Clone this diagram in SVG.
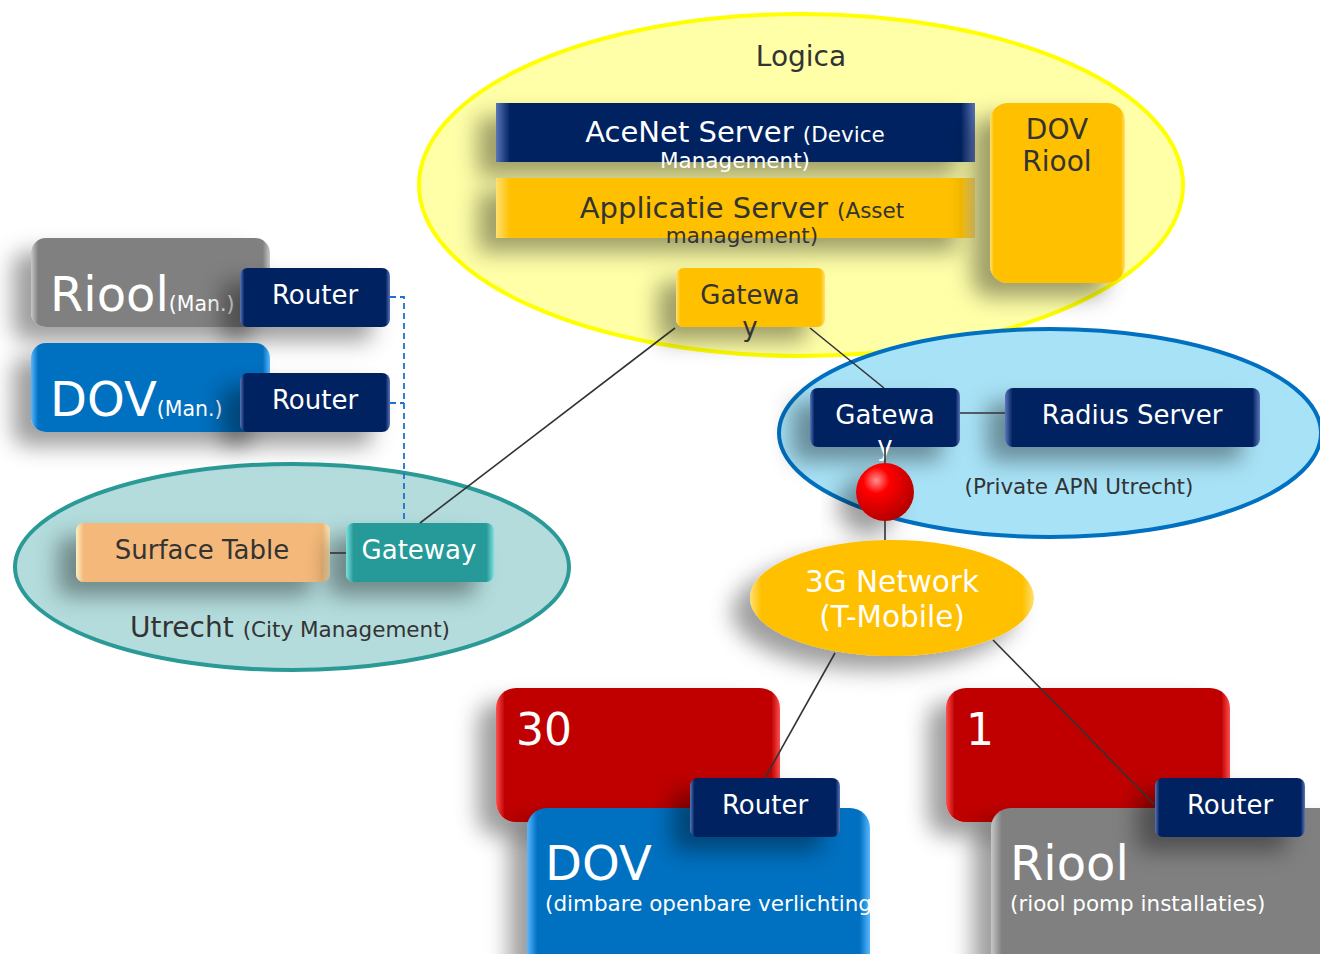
<svg xmlns="http://www.w3.org/2000/svg" width="1320" height="954" viewBox="0 0 1320 954">
<style>
text{font-family:"DejaVu Sans","Verdana",sans-serif}
.w{fill:#ffffff}
.d{fill:#333333}
.navy{fill:url(#gNavy)}
.gold{fill:url(#gGold)}
.teal{fill:url(#gTeal)}
.peach{fill:url(#gPeach)}
.red{fill:url(#gRed)}
.blue{fill:url(#gBlue)}
.gray{fill:url(#gGray)}
.conn{stroke:#333333;stroke-width:1.6;fill:none}
.dash{stroke:#1f6fd0;stroke-width:1.8;fill:none;stroke-dasharray:6 4}
.sh{filter:url(#shadow)}
.s{font-size:21.5px}
</style>
<defs>
<filter id="shadow" x="-60%" y="-60%" width="220%" height="240%">
<feDropShadow dx="-18" dy="14" stdDeviation="11" flood-color="#000" flood-opacity="0.38"/>
</filter>
<linearGradient id="gNavy" x1="0" x2="1" y1="0" y2="0">
<stop offset="0" stop-color="#5a76b8"/><stop offset="0.03" stop-color="#002060"/><stop offset="0.97" stop-color="#002060"/><stop offset="1" stop-color="#5a76b8"/>
</linearGradient>
<linearGradient id="gGold" x1="0" x2="1" y1="0" y2="0">
<stop offset="0" stop-color="#ffe070"/><stop offset="0.03" stop-color="#ffc000"/><stop offset="0.97" stop-color="#ffc000"/><stop offset="1" stop-color="#ffe070"/>
</linearGradient>
<linearGradient id="gTeal" x1="0" x2="1" y1="0" y2="0">
<stop offset="0" stop-color="#7fe0e0"/><stop offset="0.05" stop-color="#259a98"/><stop offset="0.95" stop-color="#259a98"/><stop offset="1" stop-color="#7fe0e0"/>
</linearGradient>
<linearGradient id="gPeach" x1="0" x2="1" y1="0" y2="0">
<stop offset="0" stop-color="#fff0c0"/><stop offset="0.03" stop-color="#f4b97a"/><stop offset="0.97" stop-color="#f4b97a"/><stop offset="1" stop-color="#fff0c0"/>
</linearGradient>
<linearGradient id="gRed" x1="0" x2="1" y1="0" y2="0">
<stop offset="0" stop-color="#ff5050"/><stop offset="0.03" stop-color="#c00000"/><stop offset="0.97" stop-color="#c00000"/><stop offset="1" stop-color="#ff5050"/>
</linearGradient>
<linearGradient id="gBlue" x1="0" x2="1" y1="0" y2="0">
<stop offset="0" stop-color="#5ab8ff"/><stop offset="0.03" stop-color="#0070c0"/><stop offset="0.97" stop-color="#0070c0"/><stop offset="1" stop-color="#5ab8ff"/>
</linearGradient>
<linearGradient id="gGray" x1="0" x2="1" y1="0" y2="0">
<stop offset="0" stop-color="#c8c8c8"/><stop offset="0.03" stop-color="#808080"/><stop offset="0.97" stop-color="#808080"/><stop offset="1" stop-color="#c8c8c8"/>
</linearGradient>
<radialGradient id="gBall" cx="0.35" cy="0.3" r="0.75">
<stop offset="0" stop-color="#ff9090"/><stop offset="0.3" stop-color="#ff0000"/><stop offset="1" stop-color="#b00000"/>
</radialGradient>
<linearGradient id="g3G" x1="0" x2="1" y1="0" y2="0">
<stop offset="0" stop-color="#ffe070"/><stop offset="0.04" stop-color="#ffc000"/><stop offset="0.96" stop-color="#ffc000"/><stop offset="1" stop-color="#ffe070"/>
</linearGradient>
</defs>

<!-- Region ellipses -->
<g id="logica-zone">
<ellipse cx="801" cy="185" rx="382" ry="171" fill="#ffffa8" stroke="#ffff00" stroke-width="4"/>
<text x="801" y="66" font-size="28" class="d" text-anchor="middle">Logica</text>
</g>
<g id="apn-zone">
<ellipse cx="1050" cy="433" rx="271" ry="104" fill="#a8e2f6" stroke="#0070c0" stroke-width="4"/>
<text x="1079" y="494" class="d s" text-anchor="middle">(Private APN Utrecht)</text>
</g>
<g id="utrecht-zone">
<ellipse cx="292" cy="567" rx="277" ry="103" fill="#b4dcdc" stroke="#2a9a96" stroke-width="4"/>
<text x="130" y="637" class="d"><tspan font-size="28">Utrecht </tspan><tspan class="s">(City Management)</tspan></text>
</g>

<!-- Logica nodes -->
<g id="acenet-server">
<rect class="navy sh" x="496" y="103" width="479" height="59"/>
<text x="735" y="142" class="w" text-anchor="middle"><tspan font-size="29">AceNet Server </tspan><tspan class="s">(Device</tspan></text>
<text x="735" y="168" class="w s" text-anchor="middle">Management)</text>
</g>
<g id="applicatie-server">
<rect class="gold sh" x="496" y="178" width="479" height="60"/>
<text x="742" y="218" class="d" text-anchor="middle"><tspan font-size="29">Applicatie Server </tspan><tspan class="s">(Asset</tspan></text>
<text x="742" y="243" class="d s" text-anchor="middle">management)</text>
</g>
<g id="dov-riool">
<rect class="gold sh" x="990" y="103" width="135" height="180" rx="18"/>
<text x="1057" y="139" class="d" font-size="28" text-anchor="middle">DOV</text>
<text x="1057" y="171" class="d" font-size="28" text-anchor="middle">Riool</text>
</g>
<g id="logica-gateway">
<rect class="gold sh" x="676" y="268" width="149" height="59" rx="8"/>
<text x="750" y="304" class="d" font-size="26" text-anchor="middle">Gatewa</text>
<text x="750" y="336" class="d" font-size="26" text-anchor="middle">y</text>
</g>

<!-- APN nodes -->
<g id="apn-gateway">
<rect class="navy sh" x="810" y="388" width="150" height="59" rx="8"/>
<text x="885" y="424" class="w" font-size="26" text-anchor="middle">Gatewa</text>
<text x="885" y="455" class="w" font-size="26" text-anchor="middle">y</text>
</g>
<g id="radius-server">
<rect class="navy sh" x="1005" y="388" width="255" height="59" rx="8"/>
<text x="1132" y="424" class="w" font-size="26" text-anchor="middle">Radius Server</text>
</g>
<g id="red-ball">
<circle cx="885" cy="492" r="29" fill="url(#gBall)" class="sh"/>
</g>
<g id="network-3g">
<ellipse cx="892" cy="598" rx="142" ry="58" fill="url(#g3G)" class="sh"/>
<text x="892" y="592" class="w" font-size="29.5" text-anchor="middle">3G Network</text>
<text x="892" y="627" class="w" font-size="29.5" text-anchor="middle">(T-Mobile)</text>
</g>

<!-- Utrecht nodes -->
<g id="surface-table">
<rect class="peach sh" x="76" y="523" width="254" height="59" rx="8"/>
<text x="202" y="559" class="d" font-size="26" text-anchor="middle">Surface Table</text>
</g>
<g id="utrecht-gateway">
<rect class="teal sh" x="346" y="523" width="148" height="59" rx="8"/>
<text x="419" y="559" class="w" font-size="26" text-anchor="middle">Gateway</text>
</g>

<!-- Left management nodes -->
<g id="riool-man">
<rect class="gray sh" x="31" y="238" width="239" height="89" rx="15"/>
<text x="50" y="311" class="w"><tspan font-size="48">Riool</tspan><tspan font-size="20.5">(Man.)</tspan></text>
</g>
<g id="router-riool-man">
<rect class="navy sh" x="240" y="268" width="150" height="59" rx="8"/>
<text x="315" y="304" class="w" font-size="26" text-anchor="middle">Router</text>
</g>
<g id="dov-man">
<rect class="blue sh" x="31" y="343" width="239" height="89" rx="15"/>
<text x="50" y="416" class="w"><tspan font-size="48">DOV</tspan><tspan font-size="20.5">(Man.)</tspan></text>
</g>
<g id="router-dov-man">
<rect class="navy sh" x="240" y="373" width="150" height="59" rx="8"/>
<text x="315" y="409" class="w" font-size="26" text-anchor="middle">Router</text>
</g>

<!-- Field nodes -->
<g id="count-30">
<rect class="red sh" x="496" y="688" width="284" height="134" rx="20"/>
<text x="516" y="745" class="w" font-size="44">30</text>
</g>
<g id="dov-field">
<rect class="blue sh" x="527" y="808" width="343" height="170" rx="20"/>
<text x="545" y="880" class="w" font-size="48">DOV</text>
<text x="545" y="911" class="w s">(dimbare openbare verlichting)</text>
</g>
<g id="router-dov">
<rect class="navy sh" x="690" y="778" width="150" height="59" rx="8"/>
<text x="765" y="814" class="w" font-size="26" text-anchor="middle">Router</text>
</g>
<g id="count-1">
<rect class="red sh" x="946" y="688" width="284" height="134" rx="20"/>
<text x="966" y="745" class="w" font-size="44">1</text>
</g>
<g id="riool-field">
<rect class="gray sh" x="991" y="808" width="360" height="170" rx="20"/>
<text x="1010" y="880" class="w" font-size="48">Riool</text>
<text x="1010" y="911" class="w s">(riool pomp installaties)</text>
</g>
<g id="router-riool">
<rect class="navy sh" x="1155" y="778" width="150" height="59" rx="8"/>
<text x="1230" y="814" class="w" font-size="26" text-anchor="middle">Router</text>
</g>

<!-- Connectors -->
<g id="connectors">
<line class="conn" x1="810" y1="328" x2="884" y2="388"/>
<line class="conn" x1="675" y1="328" x2="420" y2="523"/>
<line class="conn" x1="960" y1="413" x2="1005" y2="413"/>
<line class="conn" x1="885" y1="447" x2="885" y2="463"/>
<line class="conn" x1="885" y1="521" x2="885" y2="540"/>
<line class="conn" x1="330" y1="553" x2="346" y2="553"/>
<line class="conn" x1="835" y1="653" x2="765" y2="778"/>
<line class="conn" x1="993" y1="640" x2="1155" y2="805"/>
<polyline class="dash" points="390,297 404,297 404,523"/>
<line class="dash" x1="390" y1="403" x2="404" y2="403"/>
</g>
</svg>
